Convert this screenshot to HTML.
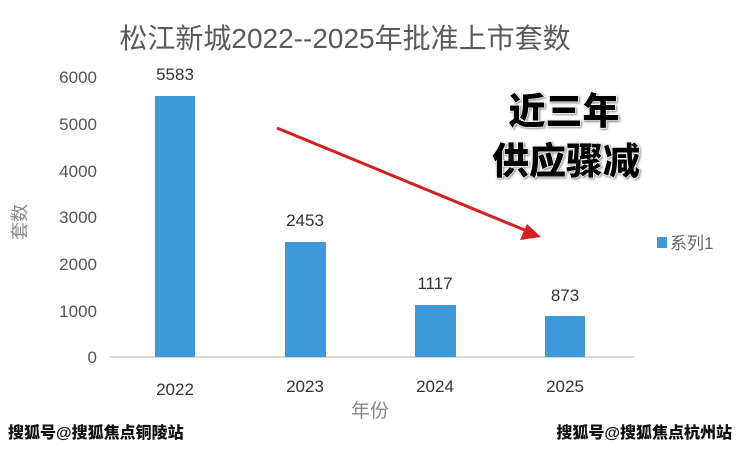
<!DOCTYPE html>
<html><head><meta charset="utf-8"><style>
body{margin:0;background:#fff;}
svg text{font-family:"Liberation Sans","Noto Sans CJK SC",sans-serif;}
.big{font-weight:900;fill:#000;stroke:#fff;stroke-width:1.5px;paint-order:stroke;filter:drop-shadow(1px 1px 1px #888);}
.wm{font-weight:900;fill:#111;stroke:#fff;stroke-width:3px;paint-order:stroke;}
</style></head><body>
<svg width="740" height="447" viewBox="0 0 740 447">
<text x="345" y="48" font-size="28" fill="#5a5a5a" text-anchor="middle">松江新城2022--2025年批准上市套数</text>
<g font-size="17" fill="#555" text-anchor="end">
<text x="97" y="83">6000</text><text x="97" y="130">5000</text><text x="97" y="177">4000</text>
<text x="97" y="223">3000</text><text x="97" y="270">2000</text><text x="97" y="317">1000</text><text x="97" y="363">0</text>
</g>
<text transform="translate(26,222) rotate(-90)" font-size="18" fill="#888" text-anchor="middle">套数</text>
<line x1="110" y1="357" x2="634" y2="357" stroke="#ccc" stroke-width="1.5"/>
<g fill="#3f98d8">
<rect x="155" y="96" width="40" height="261"/><rect x="285" y="242" width="41" height="115"/>
<rect x="415" y="305" width="41" height="52"/><rect x="545" y="316" width="40" height="41"/>
</g>
<g font-size="17" fill="#333" text-anchor="middle">
<text x="175" y="80">5583</text><text x="305" y="226">2453</text><text x="435" y="289">1117</text><text x="565" y="301">873</text>
<text x="175" y="395">2022</text><text x="305" y="392">2023</text><text x="435" y="392">2024</text><text x="565" y="392">2025</text>
</g>
<text x="370" y="417" font-size="19" fill="#888" text-anchor="middle">年份</text>
<rect x="657" y="237" width="10" height="11" fill="#3f98d8"/>
<text x="670" y="249" font-size="17" fill="#666">系列1</text>
<line x1="277" y1="128" x2="527" y2="231" stroke="#d42020" stroke-width="3"/>
<polygon points="541,237 520,240 527,224" fill="#d42020"/>
<text class="big" x="564" y="124" font-size="37" text-anchor="middle">近三年</text>
<text class="big" x="566" y="174" font-size="37" text-anchor="middle">供应骤减</text>
<text class="wm" x="8" y="438" font-size="16">搜狐号@搜狐焦点铜陵站</text>
<text class="wm" x="732" y="438" font-size="16" text-anchor="end">搜狐号@搜狐焦点杭州站</text>
</svg>
</body></html>
